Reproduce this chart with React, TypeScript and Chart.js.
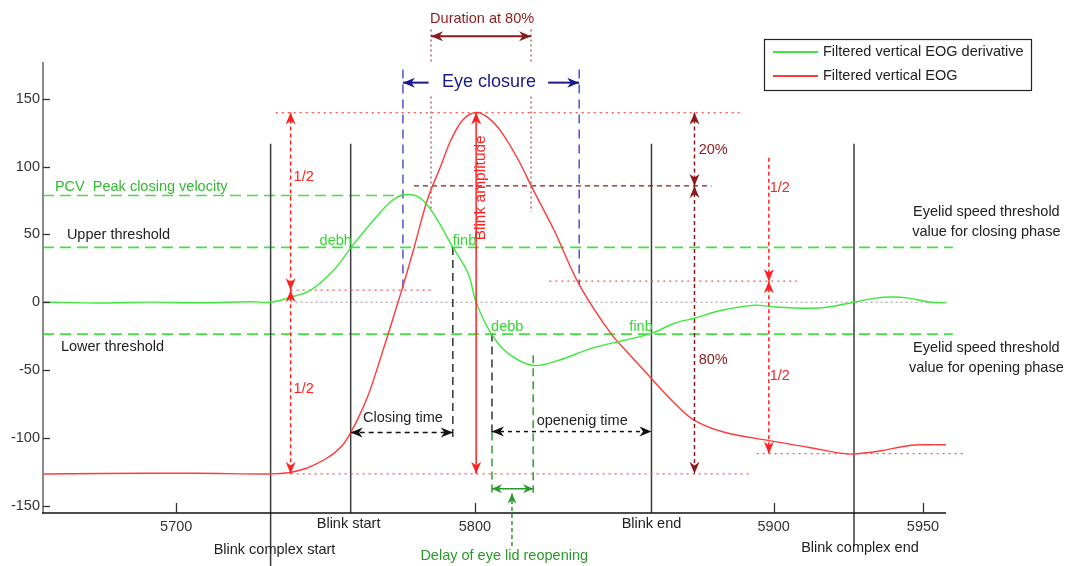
import React, { useEffect, useRef } from "react";
import { Chart, registerables } from "chart.js";

Chart.register(...registerables);

// ---------- data ----------
const eogX = [5655, 5675, 5707, 5732, 5738, 5743, 5747, 5750, 5753, 5756, 5758.4, 5761, 5764, 5766, 5770, 5775.5, 5779.6, 5784, 5788.5, 5792, 5796, 5800.4, 5804.5, 5809, 5814.5, 5819, 5826.5, 5835, 5845.5, 5852.5, 5859, 5867, 5873.5, 5883.5, 5898.5, 5912, 5923, 5927, 5936, 5945, 5952, 5958];
const eogValues = [-126.6, -126.2, -126.0, -126.5, -125.5, -122.7, -119, -115.5, -111, -104.5, -96, -85, -70, -57.6, -30, 8.9, 40, 75, 100, 119.7, 134.5, 139.8, 135.8, 125, 105, 85, 53, 12.6, -23, -40.4, -56, -74.8, -87, -95.8, -102, -107, -111.4, -111.8, -109.4, -105.7, -105, -105];

const derivX = [5655.4, 5674.5, 5691.3, 5708.1, 5724.9, 5731.6, 5738.3, 5745, 5752.7, 5758.4, 5766.1, 5771.8, 5775.9, 5780.9, 5785.3, 5792.6, 5797.7, 5800.4, 5805.4, 5811.1, 5819.5, 5827.9, 5839, 5850, 5859.1, 5866.8, 5873.5, 5882.6, 5893.6, 5900.4, 5911.8, 5918.5, 5927.3, 5934, 5939.6, 5945.3, 5952, 5958.1];
const derivValues = [0.2, -0.6, 0.1, -0.4, 0.4, 0, 3.7, 8.9, 23.6, 40, 60.6, 74, 79, 77.8, 68, 40.6, 21.4, 0, -23, -37.7, -46.6, -42.9, -34, -28, -23, -15.5, -11.8, -5.9, -2.2, -3.5, -4.4, -3.5, 0.2, 3, 3.9, 3, 0.2, -0.5];

const seriesLabels = ["Filtered vertical EOG derivative", "Filtered vertical EOG"];
const xTickValues = [5700, 5800, 5900, 5950];
const yTickValues = [-150, -100, -50, 0, 50, 100, 150];
const xRange = [5655.4, 5957.7];
const yRange = [-155.3, 177];

// reference levels / events (data units)
const upperThreshold = 40.4;
const lowerThreshold = -23.5;
const peakClosingVelocity = 78.6;
const blinkComplexStart = 5731.6;
const blinkStart = 5758.4;
const blinkEnd = 5859.1;
const blinkComplexEnd = 5926.9;
const peakTime = 5800.4;
const peakLevel = 139.7;
const baseLevel = -126.4;
const endBaseLevel = -111.6;
const eightyLevel = 85.7;
const eyeClosureStart = 5775.9;
const eyeClosureEnd = 5834.9;
const duration80Start = 5785.3;
const duration80End = 5818.8;
const closingEnd = 5792.6;
const openingStart = 5805.7;
const reopenDelayEnd = 5819.5;

const FONT = "'Liberation Sans', Arial, sans-serif";

type Opt = { color: string; width?: number; dash?: number[]; head0?: boolean; head1?: boolean; hl?: number; hw?: number };

const annotations = {
  id: "annotations",
  beforeDatasetsDraw(chart: any) {
    const ctx = chart.ctx as CanvasRenderingContext2D;
    const xs = chart.scales.x, ys = chart.scales.y;
    const X = (v: number) => xs.getPixelForValue(v);
    const Y = (v: number) => ys.getPixelForValue(v);
    const seg = (x1: number, y1: number, x2: number, y2: number, color: string, width: number, dash: number[] = []) => {
      ctx.save();
      ctx.strokeStyle = color; ctx.lineWidth = width; ctx.setLineDash(dash);
      ctx.beginPath(); ctx.moveTo(X(x1), Y(y1)); ctx.lineTo(X(x2), Y(y2)); ctx.stroke();
      ctx.restore();
    };
    const gDash = [11, 6];
    seg(xRange[0], peakClosingVelocity, eyeClosureStart, peakClosingVelocity, "#45e045", 1.6, gDash);
    seg(xRange[0], upperThreshold, 5960, upperThreshold, "#45e045", 1.6, gDash);
    seg(xRange[0], lowerThreshold, 5960, lowerThreshold, "#45e045", 1.6, gDash);
    seg(5738.3, 0, 5958, 0, "#9a9a9a", 1.2, [2, 3]);
    const k = "#3c3c3c";
    seg(blinkComplexStart, 116.8, blinkComplexStart, -196, k, 1.5);
    seg(blinkStart, 116.8, blinkStart, yRange[0], k, 1.5);
    seg(blinkEnd, 116.8, blinkEnd, yRange[0], k, 1.5);
    seg(blinkComplexEnd, 116.8, blinkComplexEnd, -180, k, 1.5);
    const rd = "#ff5050";
    seg(5733.3, peakLevel, 5890, peakLevel, rd, 1.2, [2, 4]);
    seg(5738.3, 8.9, 5786, 8.9, rd, 1.2, [2, 4]);
    seg(5738.3, baseLevel, 5892, baseLevel, rd, 1.2, [2, 4]);
    seg(5824.9, 15.5, 5907.8, 15.5, rd, 1.2, [2, 4]);
    seg(5894.3, endBaseLevel, 5963.8, endBaseLevel, rd, 1.2, [2, 4]);
    seg(5779.6, eightyLevel, 5879.2, eightyLevel, "#8b1a1a", 1.3, [5, 4]);
    const dv = "#bb8f8f";
    [duration80Start, duration80End].forEach((x) => {
      seg(x, 201, x, 176.6, dv, 2, [2, 3]);
      seg(x, 151.5, x, 66.5, dv, 2, [2, 3]);
    });
    seg(eyeClosureStart, 171.5, eyeClosureStart, 8.9, "#5252cc", 1.5, [9, 6]);
    seg(eyeClosureEnd, 171.5, eyeClosureEnd, 12.6, "#5252cc", 1.5, [9, 6]);
    seg(closingEnd, 40.6, closingEnd, -100.5, "#333", 1.5, [8, 5]);
    seg(openingStart, -23, openingStart, -96, "#333", 1.5, [8, 5]);
    seg(openingStart, -96, openingStart, -140.4, "#2f9f2f", 1.5, [8, 5]);
    seg(reopenDelayEnd, -39, reopenDelayEnd, -140.4, "#2f9f2f", 1.5, [8, 5]);
  },
  afterDatasetsDraw(chart: any) {
    const ctx = chart.ctx as CanvasRenderingContext2D;
    const xs = chart.scales.x, ys = chart.scales.y;
    const area = chart.chartArea;
    const X = (v: number) => xs.getPixelForValue(v);
    const Y = (v: number) => ys.getPixelForValue(v);

    const head = (tx: number, ty: number, dx: number, dy: number, color: string, hl: number, hw: number) => {
      const len = Math.hypot(dx, dy) || 1;
      const ux = dx / len, uy = dy / len;
      const px = -uy, py = ux;
      ctx.save();
      ctx.fillStyle = color; ctx.setLineDash([]);
      ctx.beginPath();
      ctx.moveTo(tx, ty);
      ctx.lineTo(tx - ux * hl + px * hw / 2, ty - uy * hl + py * hw / 2);
      ctx.lineTo(tx - ux * hl * 0.7, ty - uy * hl * 0.7);
      ctx.lineTo(tx - ux * hl - px * hw / 2, ty - uy * hl - py * hw / 2);
      ctx.closePath(); ctx.fill();
      ctx.restore();
    };
    const arrow = (x1: number, y1: number, x2: number, y2: number, o: Opt) => {
      const p1x = X(x1), p1y = Y(y1), p2x = X(x2), p2y = Y(y2);
      ctx.save();
      ctx.strokeStyle = o.color; ctx.lineWidth = o.width ?? 1.5; ctx.setLineDash(o.dash ?? []);
      ctx.beginPath(); ctx.moveTo(p1x, p1y); ctx.lineTo(p2x, p2y); ctx.stroke();
      ctx.restore();
      const hl = o.hl ?? 12, hw = o.hw ?? 10;
      if (o.head1 !== false) head(p2x, p2y, p2x - p1x, p2y - p1y, o.color, hl, hw);
      if (o.head0) head(p1x, p1y, p1x - p2x, p1y - p2y, o.color, hl, hw);
    };
    const text = (s: string, x: number, y: number, color: string, size = 14.5, align: CanvasTextAlign = "left", rot = 0) => {
      ctx.save();
      ctx.fillStyle = color;
      ctx.font = `${size}px ${FONT}`;
      ctx.textAlign = align; ctx.textBaseline = "middle";
      ctx.translate(X(x), Y(y));
      if (rot) ctx.rotate(rot);
      ctx.fillText(s, 0, 0);
      ctx.restore();
    };

    const red = "#ff2020", dred = "#8b1a1a", navy = "#1a1a8a", dgreen = "#2a9a2a", lgreen = "#33d633";
    arrow(5738.3, peakLevel, 5738.3, 8.9, { color: red, dash: [4, 3], head0: true });
    arrow(5738.3, 8.9, 5738.3, baseLevel, { color: red, dash: [4, 3], head0: true });
    arrow(5898.4, 106.4, 5898.4, 15.5, { color: red, dash: [4, 3] });
    arrow(5898.4, 15.5, 5898.4, endBaseLevel, { color: red, dash: [4, 3], head0: true });
    arrow(5873.5, peakLevel, 5873.5, eightyLevel, { color: dred, dash: [4, 3], head0: true });
    arrow(5873.5, eightyLevel, 5873.5, baseLevel, { color: dred, dash: [4, 3], head0: true });
    arrow(peakTime, peakLevel, peakTime, baseLevel, { color: red, width: 1.5, head0: true });
    arrow(duration80Start, 195.9, duration80End, 195.9, { color: dred, width: 2, head0: true });
    arrow(5784.5, 161.8, eyeClosureStart, 161.8, { color: navy, width: 2 });
    arrow(5824.5, 161.8, eyeClosureEnd, 161.8, { color: navy, width: 2 });
    arrow(blinkStart, -96, closingEnd, -96, { color: "#111", dash: [5, 4], head0: true });
    arrow(openingStart, -95.3, blinkEnd, -95.3, { color: "#111", dash: [4, 4], head0: true });
    arrow(openingStart, -137.5, reopenDelayEnd, -137.5, { color: dgreen, width: 1.5, head0: true, hl: 10, hw: 9 });
    arrow(5812.4, -179.6, 5812.4, -141, { color: dgreen, dash: [4, 3], hl: 10, hw: 9 });

    text("1/2", 5739.3, 92.4, red);
    text("1/2", 5739.3, -64.3, red);
    text("1/2", 5898.7, 84.3, red);
    text("1/2", 5898.7, -54, red);
    text("20%", 5874.9, 112.3, dred);
    text("80%", 5874.9, -42.9, dred);
    text("Duration at 80%", 5802.4, 208.4, dred, 14.5, "center");
    text("Eye closure", 5804.7, 162.6, navy, 18, "center");
    text("Blink amplitude", 5801.8, 84.3, red, 15.5, "center", -Math.PI / 2);
    text("Closing time", 5775.9, -85, "#222", 14.5, "center");
    text("openenig time", 5835.9, -87.2, "#222", 14.5, "center");
    text("Delay of eye lid reopening", 5809.8, -187, dgreen, 14.5, "center");
    text("PCV  Peak closing velocity", 5659.4, 85, "#33b833");
    text("Upper threshold", 5663.4, 49.5, "#222");
    text("Lower threshold", 5661.4, -33.3, "#222");
    text("debh", 5748, 45, lgreen);
    text("finb", 5792.6, 45, lgreen);
    text("debb", 5805.4, -18.5, lgreen);
    text("finb", 5851.7, -18.5, lgreen);
    text("Eyelid speed threshold", 5971.2, 66.5, "#222", 14.5, "center");
    text("value for closing phase", 5971.2, 51.7, "#222", 14.5, "center");
    text("Eyelid speed threshold", 5971.2, -34, "#222", 14.5, "center");
    text("value for opening phase", 5971.2, -48.8, "#222", 14.5, "center");
    text("Blink complex start", 5732.9, -182.6, "#222", 14.5, "center");
    text("Blink start", 5757.7, -163.3, "#222", 14.5, "center");
    text("Blink end", blinkEnd, -163.3, "#222", 14.5, "center");
    text("Blink complex end", 5928.9, -181, "#222", 14.5, "center");

    ctx.save();
    ctx.setLineDash([]);
    ctx.strokeStyle = "#8a8a8a"; ctx.lineWidth = 2;
    ctx.beginPath(); ctx.moveTo(area.left, area.top); ctx.lineTo(area.left, area.bottom); ctx.stroke();
    ctx.strokeStyle = "#111"; ctx.lineWidth = 1.6;
    ctx.beginPath(); ctx.moveTo(area.left - 1, area.bottom); ctx.lineTo(area.right, area.bottom); ctx.stroke();
    ctx.strokeStyle = "#333"; ctx.lineWidth = 1.3;
    yTickValues.forEach((v) => {
      const y = Math.round(Y(v)) + 0.5;
      ctx.beginPath(); ctx.moveTo(area.left, y); ctx.lineTo(area.left + 7, y); ctx.stroke();
    });
    xTickValues.forEach((v) => {
      const x = Math.round(X(v)) + 0.5;
      ctx.beginPath(); ctx.moveTo(x, area.bottom); ctx.lineTo(x, area.bottom - 10); ctx.stroke();
    });
    ctx.restore();

    ctx.save();
    ctx.fillStyle = "#fff";
    ctx.fillRect(764, 39, 267, 51);
    ctx.strokeStyle = "#222"; ctx.lineWidth = 1.2;
    ctx.strokeRect(764.5, 39.5, 267, 51);
    chart.data.datasets.forEach((ds: any, i: number) => {
      const ly = 52 + i * 24;
      ctx.strokeStyle = ds.borderColor; ctx.lineWidth = 2;
      ctx.beginPath(); ctx.moveTo(773, ly); ctx.lineTo(818, ly); ctx.stroke();
      ctx.fillStyle = "#222"; ctx.font = `14.5px ${FONT}`;
      ctx.textAlign = "left"; ctx.textBaseline = "middle";
      ctx.fillText(ds.label, 823, ly);
    });
    ctx.restore();
  },
};

export default function App() {
  const ref = useRef<HTMLCanvasElement | null>(null);
  useEffect(() => {
    if (!ref.current) return;
    const chart = new Chart(ref.current, {
      type: "line",
      data: {
        datasets: [
          {
            label: seriesLabels[0],
            data: derivX.map((x, i) => ({ x, y: derivValues[i] })),
            borderColor: "#3de83d",
            borderWidth: 1.4,
            pointRadius: 0,
            tension: 0.35,
            fill: false,
          },
          {
            label: seriesLabels[1],
            data: eogX.map((x, i) => ({ x, y: eogValues[i] })),
            borderColor: "#ff3a3a",
            borderWidth: 1.4,
            pointRadius: 0,
            tension: 0.35,
            fill: false,
          },
        ],
      },
      options: {
        responsive: false,
        animation: false,
        layout: { padding: { top: 62, right: 119, bottom: 0, left: 0 } },
        plugins: { legend: { display: false }, tooltip: { enabled: false } },
        scales: {
          x: {
            type: "linear",
            min: xRange[0],
            max: xRange[1],
            grid: { display: false, drawTicks: false },
            border: { display: false },
            ticks: { padding: 5, color: "#333", font: { family: FONT, size: 14.5 }, callback: (v: any) => String(v) },
            afterBuildTicks: (s: any) => { s.ticks = xTickValues.map((v) => ({ value: v })); },
            afterFit: (s: any) => { s.height = 53; },
          },
          y: {
            type: "linear",
            min: yRange[0],
            max: yRange[1],
            grid: { display: false, drawTicks: false },
            border: { display: false },
            ticks: { padding: 3, color: "#333", font: { family: FONT, size: 14.5 }, callback: (v: any) => String(v) },
            afterBuildTicks: (s: any) => { s.ticks = yTickValues.map((v) => ({ value: v })); },
            afterFit: (s: any) => { s.width = 43; },
          },
        },
      },
      plugins: [annotations],
    } as any);
    return () => chart.destroy();
  }, []);
  return (
    <div style={{ position: "absolute", left: 0, top: 0, width: 1065, height: 566, background: "#fff" }}>
      <canvas ref={ref} width={1065} height={566} />
    </div>
  );
}
